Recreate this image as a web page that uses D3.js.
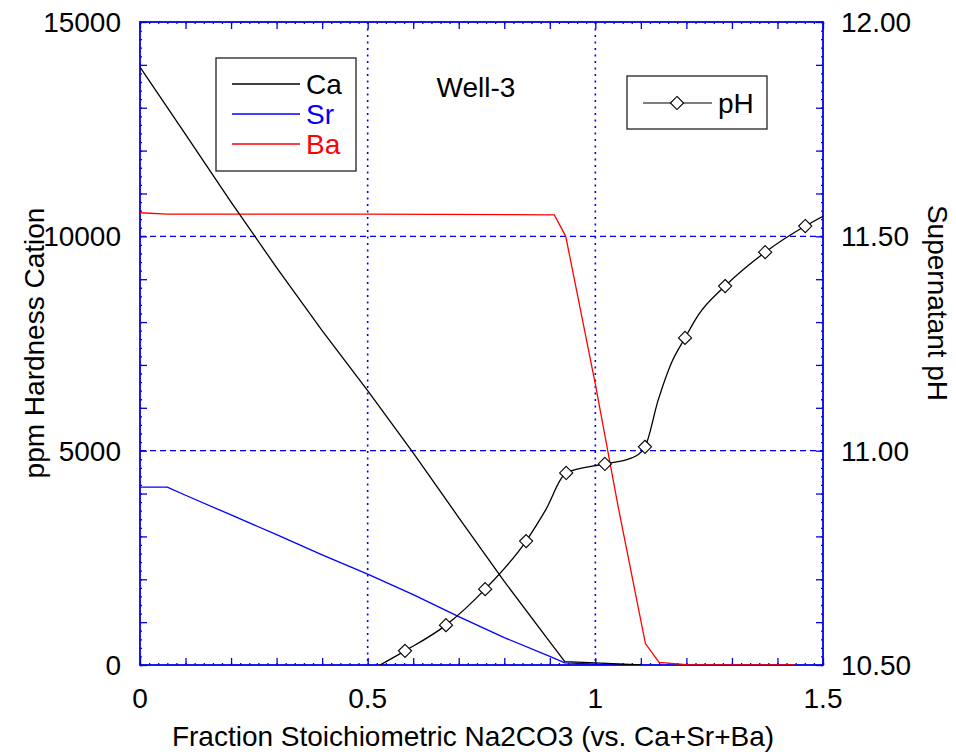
<!DOCTYPE html>
<html>
<head>
<meta charset="utf-8">
<script src="https://cdn.jsdelivr.net/npm/d3@7"></script>
<style>
  body { margin: 0; background: #fff; }
  text { font-family: "Liberation Sans", Arial, sans-serif; }
</style>
</head>
<body>
<div id="chart"></div>
<script>
// cation curves (ppm) vs fraction stoichiometric Na2CO3
var caX = [0, 0.1, 0.2, 0.3, 0.4, 0.5, 0.6, 0.7, 0.8, 0.9, 0.933, 1.0, 1.1];
var caY = [13950, 12380, 10800, 9270, 7800, 6400, 4950, 3440, 1950, 540, 80, 50, 0];

var srX = [0, 0.06, 0.1, 0.2, 0.3, 0.4, 0.5, 0.6, 0.7, 0.8, 0.9, 0.933, 1.0, 1.1];
var srY = [4150, 4150, 3960, 3500, 3040, 2570, 2120, 1640, 1130, 640, 200, 50, 20, 0];

var baX = [0, 0.06, 0.5, 0.91, 0.935, 1.0, 1.05, 1.11, 1.14, 1.2, 1.3, 1.44];
var baY = [10550, 10520, 10520, 10500, 10000, 6550, 3700, 500, 60, 10, 0, 0];

// supernatant pH, curve points and the marked samples
var phX = [0.527, 0.582, 0.672, 0.758, 0.848, 0.89, 0.936, 1.021, 1.08, 1.109, 1.138, 1.168, 1.197, 1.226, 1.285, 1.373, 1.461, 1.5];
var phY = [10.5, 10.533, 10.593, 10.677, 10.789, 10.86, 10.948, 10.969, 10.983, 11.009, 11.118, 11.207, 11.263, 11.316, 11.384, 11.463, 11.524, 11.547];
var markX = [0.582, 0.672, 0.758, 0.848, 0.936, 1.021, 1.109, 1.197, 1.285, 1.373, 1.461];
var markY = [10.533, 10.593, 10.677, 10.789, 10.948, 10.969, 11.009, 11.263, 11.384, 11.463, 11.524];

var xTicks = [0, 0.5, 1, 1.5];
var yTicks = [0, 5000, 10000, 15000];
var pTicks = [10.5, 11.0, 11.5, 12.0];

var width = 956, height = 754;
var pL = 140, pT = 22, pR = 823, pB = 665;
var blue = "#0000ee";

var svg = d3.select("#chart").append("svg")
    .attr("width", width)
    .attr("height", height);

var x = d3.scaleLinear().domain([0, 1.5]).range([pL, pR]);
var y = d3.scaleLinear().domain([0, 15000]).range([pB, pT]);
var yp = d3.scaleLinear().domain([10.5, 12.0]).range([pB, pT]);

// grid
svg.selectAll(".hgrid").data([5000, 10000]).enter().append("line")
    .attr("x1", pL).attr("x2", pR)
    .attr("y1", function(d) { return y(d); }).attr("y2", function(d) { return y(d); })
    .attr("stroke", blue).attr("stroke-width", 1.4).attr("stroke-dasharray", "6,4");
svg.selectAll(".vgrid").data([0.5, 1.0]).enter().append("line")
    .attr("y1", pT).attr("y2", pB)
    .attr("x1", function(d) { return x(d); }).attr("x2", function(d) { return x(d); })
    .attr("stroke", blue).attr("stroke-width", 1.6).attr("stroke-dasharray", "2,4.5");

// ticks (inward), minor + major on all four sides
function tickAxis(axis, g, big, small) {
  g.call(axis.tickValues(small).tickSize(2).tickFormat(""));
  g.append("g").call(axis.tickValues(big).tickSize(7).tickFormat(""));
  g.selectAll("path").remove();
  g.selectAll("line").attr("stroke", blue).attr("stroke-width", 1.3);
}
var xMajor = d3.range(0, 1.5001, 0.1), xMinor = d3.range(0, 1.5001, 0.02);
var yMajor = d3.range(0, 15001, 1000), yMinor = d3.range(0, 15001, 200);
var pMajor = d3.range(10.5, 12.0001, 0.1), pMinor = d3.range(10.5, 12.0001, 0.02);

tickAxis(d3.axisTop(x), svg.append("g").attr("transform", "translate(0," + pB + ")"), xMajor, xMinor);
tickAxis(d3.axisBottom(x), svg.append("g").attr("transform", "translate(0," + pT + ")"), xMajor, xMinor);
tickAxis(d3.axisRight(y), svg.append("g").attr("transform", "translate(" + pL + ",0)"), yMajor, yMinor);
tickAxis(d3.axisLeft(yp), svg.append("g").attr("transform", "translate(" + pR + ",0)"), pMajor, pMinor);

// frame
svg.append("rect")
    .attr("x", pL).attr("y", pT)
    .attr("width", pR - pL).attr("height", pB - pT)
    .attr("fill", "none").attr("stroke", blue).attr("stroke-width", 1.8);

// clip
svg.append("clipPath").attr("id", "clip").append("rect")
    .attr("x", pL).attr("y", pT).attr("width", pR - pL).attr("height", pB - pT);
var plot = svg.append("g").attr("clip-path", "url(#clip)");

function series(xs, ys, sy) {
  return xs.map(function(d, i) { return [x(d), sy(ys[i])]; });
}
var line = d3.line();

plot.append("path").attr("d", line(series(srX, srY, y)))
    .attr("fill", "none").attr("stroke", "#0000ff").attr("stroke-width", 1.3);
plot.append("path").attr("d", line(series(baX, baY, y)))
    .attr("fill", "none").attr("stroke", "#ff0000").attr("stroke-width", 1.3);
plot.append("path").attr("d", line(series(caX, caY, y)))
    .attr("fill", "none").attr("stroke", "#000").attr("stroke-width", 1.3);

plot.append("path").attr("d", d3.line().curve(d3.curveMonotoneX)(series(phX, phY, yp)))
    .attr("fill", "none").attr("stroke", "#000").attr("stroke-width", 1.3);

var diamond = d3.symbol().type(d3.symbolDiamond2).size(110);
plot.selectAll(".mk").data(series(markX, markY, yp)).enter().append("path")
    .attr("d", diamond)
    .attr("transform", function(d) { return "translate(" + d[0] + "," + d[1] + ")"; })
    .attr("fill", "#fff").attr("stroke", "#000").attr("stroke-width", 1.1);

// tick labels
var fs = 28;
svg.selectAll(".xl").data(xTicks).enter().append("text")
    .attr("x", function(d) { return x(d); }).attr("y", 708)
    .attr("text-anchor", "middle").attr("font-size", fs)
    .text(function(d) { return d; });
svg.selectAll(".yl").data(yTicks).enter().append("text")
    .attr("x", 121).attr("y", function(d) { return y(d) + 10; })
    .attr("text-anchor", "end").attr("font-size", fs)
    .text(function(d) { return d; });
svg.selectAll(".pl").data(pTicks).enter().append("text")
    .attr("x", 841).attr("y", function(d) { return yp(d) + 10; })
    .attr("font-size", fs)
    .text(function(d) { return d.toFixed(2); });

// axis titles
svg.append("text").attr("x", 473).attr("y", 746).attr("text-anchor", "middle")
    .attr("font-size", fs).text("Fraction Stoichiometric Na2CO3 (vs. Ca+Sr+Ba)");
svg.append("text").attr("transform", "translate(44,343) rotate(-90)").attr("text-anchor", "middle")
    .attr("font-size", fs).text("ppm Hardness Cation");
svg.append("text").attr("transform", "translate(928,303) rotate(90)").attr("text-anchor", "middle")
    .attr("font-size", fs).text("Supernatant pH");

svg.append("text").attr("x", 476).attr("y", 97).attr("text-anchor", "middle")
    .attr("font-size", fs).text("Well-3");

// cation legend
var leg = svg.append("g");
leg.append("rect").attr("x", 216).attr("y", 58).attr("width", 140).attr("height", 113)
    .attr("fill", "#fff").attr("stroke", "#222").attr("stroke-width", 1.3);
var legNames = ["Ca", "Sr", "Ba"], legColors = ["#000", "#0000ff", "#ff0000"];
legNames.forEach(function(n, i) {
  var ly = 84 + i * 30;
  leg.append("line").attr("x1", 232).attr("x2", 300).attr("y1", ly).attr("y2", ly)
      .attr("stroke", legColors[i]).attr("stroke-width", 1.3);
  leg.append("text").attr("x", 306).attr("y", ly + 10).attr("font-size", fs)
      .attr("fill", legColors[i]).text(n);
});

// pH legend
var leg2 = svg.append("g");
leg2.append("rect").attr("x", 627).attr("y", 76).attr("width", 140).attr("height", 53)
    .attr("fill", "#fff").attr("stroke", "#222").attr("stroke-width", 1.3);
leg2.append("line").attr("x1", 643).attr("x2", 712).attr("y1", 103).attr("y2", 103)
    .attr("stroke", "#555").attr("stroke-width", 1.3);
leg2.append("path").attr("d", diamond).attr("transform", "translate(677,103)")
    .attr("fill", "#fff").attr("stroke", "#000").attr("stroke-width", 1.1);
leg2.append("text").attr("x", 718).attr("y", 113).attr("font-size", fs).text("pH");
</script>
</body>
</html>
